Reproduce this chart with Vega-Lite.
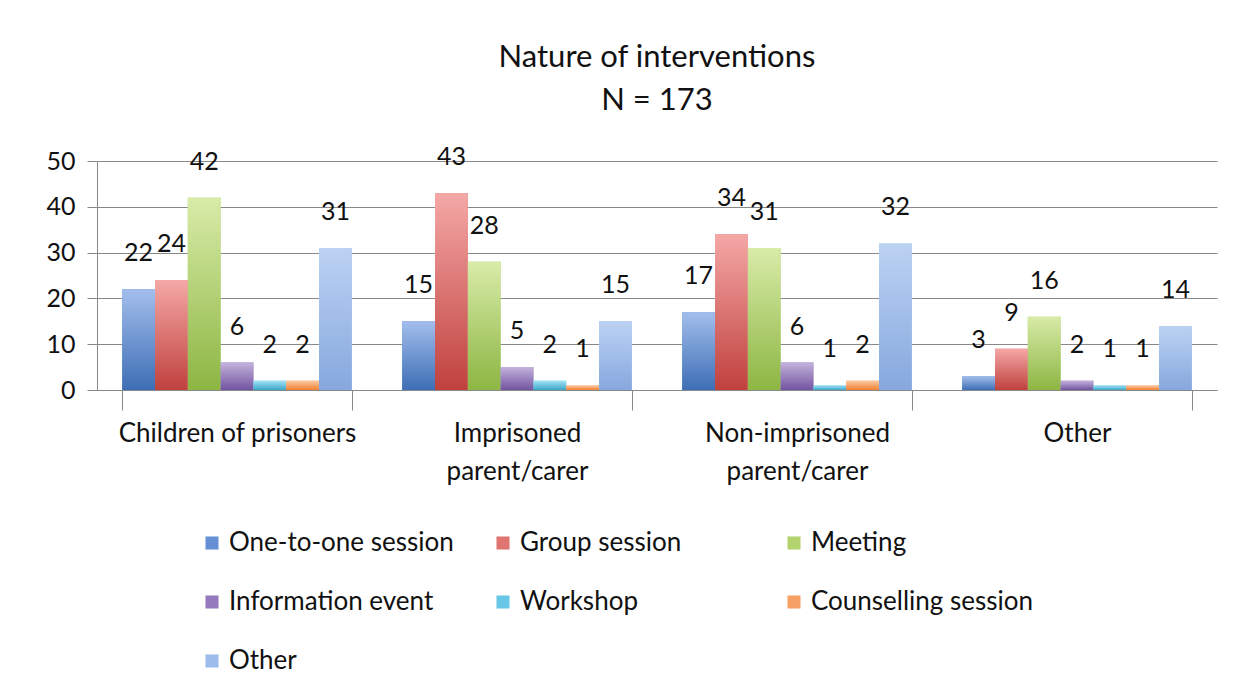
{
  "$schema": "https://vega.github.io/schema/vega-lite/v6.json",
  "width": 1120,
  "height": 229,
  "padding": {"left": 45, "top": 42, "right": 20, "bottom": 5},
  "background": "white",
  "title": {
    "text": ["Nature of interventions", "N = 173"],
    "fontSize": 31,
    "font": "Lato",
    "fontWeight": "normal",
    "color": "#111111",
    "lineHeight": 43,
    "offset": 28,
    "anchor": "middle",
    "frame": "group"
  },
  "data": {
    "values": [
      {"group": "Children of prisoners", "type": "One-to-one session", "value": 22},
      {"group": "Children of prisoners", "type": "Group session", "value": 24},
      {"group": "Children of prisoners", "type": "Meeting", "value": 42},
      {"group": "Children of prisoners", "type": "Information event", "value": 6},
      {"group": "Children of prisoners", "type": "Workshop", "value": 2},
      {"group": "Children of prisoners", "type": "Counselling session", "value": 2},
      {"group": "Children of prisoners", "type": "Other", "value": 31},
      {"group": "Imprisoned parent/carer", "type": "One-to-one session", "value": 15},
      {"group": "Imprisoned parent/carer", "type": "Group session", "value": 43},
      {"group": "Imprisoned parent/carer", "type": "Meeting", "value": 28},
      {"group": "Imprisoned parent/carer", "type": "Information event", "value": 5},
      {"group": "Imprisoned parent/carer", "type": "Workshop", "value": 2},
      {"group": "Imprisoned parent/carer", "type": "Counselling session", "value": 1},
      {"group": "Imprisoned parent/carer", "type": "Other", "value": 15},
      {"group": "Non-imprisoned parent/carer", "type": "One-to-one session", "value": 17},
      {"group": "Non-imprisoned parent/carer", "type": "Group session", "value": 34},
      {"group": "Non-imprisoned parent/carer", "type": "Meeting", "value": 31},
      {"group": "Non-imprisoned parent/carer", "type": "Information event", "value": 6},
      {"group": "Non-imprisoned parent/carer", "type": "Workshop", "value": 1},
      {"group": "Non-imprisoned parent/carer", "type": "Counselling session", "value": 2},
      {"group": "Non-imprisoned parent/carer", "type": "Other", "value": 32},
      {"group": "Other", "type": "One-to-one session", "value": 3},
      {"group": "Other", "type": "Group session", "value": 9},
      {"group": "Other", "type": "Meeting", "value": 16},
      {"group": "Other", "type": "Information event", "value": 2},
      {"group": "Other", "type": "Workshop", "value": 1},
      {"group": "Other", "type": "Counselling session", "value": 1},
      {"group": "Other", "type": "Other", "value": 14}
    ]
  },
  "encoding": {
    "x": {
      "field": "group",
      "type": "nominal",
      "sort": null,
      "title": null,
      "scale": {"paddingInner": 0.18, "paddingOuter": 0.09},
      "axis": {
        "labelAngle": 0,
        "labelFont": "Lato",
        "labelFontSize": 26,
        "labelColor": "#111111",
        "labelPadding": 10,
        "labelLimit": 400,
        "labelLineHeight": 38,
        "labelExpr": "datum.label == 'Imprisoned parent/carer' ? ['Imprisoned', 'parent/carer'] : datum.label == 'Non-imprisoned parent/carer' ? ['Non-imprisoned', 'parent/carer'] : datum.label",
        "tickBand": "extent",
        "tickSize": 20,
        "tickColor": "#888888",
        "domainColor": "#888888",
        "grid": false
      }
    },
    "xOffset": {
      "field": "type",
      "type": "nominal",
      "sort": null,
      "scale": {"domain": ["One-to-one session", "Group session", "Meeting", "Information event", "Workshop", "Counselling session", "Other"]}
    },
    "y": {
      "field": "value",
      "type": "quantitative",
      "title": null,
      "scale": {"domain": [0, 50]},
      "axis": {
        "values": [0, 10, 20, 30, 40, 50],
        "labelFont": "Lato",
        "labelFontSize": 25,
        "labelColor": "#111111",
        "labelPadding": 12,
        "tickSize": 10,
        "tickColor": "#888888",
        "domainColor": "#888888",
        "gridColor": "#888888",
        "gridWidth": 1
      }
    }
  },
  "layer": [
    {
      "mark": {"type": "bar", "width": {"band": 1}},
      "encoding": {
        "color": {
          "field": "type",
          "type": "nominal",
          "sort": null,
          "title": null,
          "scale": {
            "domain": ["One-to-one session", "Group session", "Meeting", "Information event", "Workshop", "Counselling session", "Other"],
            "range": ["#6690D4", "#E07470", "#B2D36E", "#957BBD", "#68C6E6", "#F6A066", "#9DBCEC"]
          },
          "legend": {
            "orient": "none",
            "legendX": 102,
            "legendY": 369,
            "direction": "horizontal",
            "columns": 3,
            "gridAlign": "all",
            "symbolType": "square",
            "symbolSize": 170,
            "symbolStrokeWidth": 0,
            "labelFont": "Lato",
            "labelFontSize": 26,
            "labelColor": "#111111",
            "labelLimit": 400,
            "columnPadding": 36,
            "rowPadding": 33
          }
        }
      }
    },
    {
      "transform": [{"filter": "datum.type == 'One-to-one session'"}],
      "mark": {"type": "bar", "width": {"band": 1}, "color": {"gradient": "linear", "x1": 0, "y1": 0, "x2": 0, "y2": 1, "stops": [{"offset": 0, "color": "#A3BEEC"}, {"offset": 1, "color": "#3D6EB5"}]}}
    },
    {
      "transform": [{"filter": "datum.type == 'Group session'"}],
      "mark": {"type": "bar", "width": {"band": 1}, "color": {"gradient": "linear", "x1": 0, "y1": 0, "x2": 0, "y2": 1, "stops": [{"offset": 0, "color": "#F4A8A6"}, {"offset": 1, "color": "#C0413E"}]}}
    },
    {
      "transform": [{"filter": "datum.type == 'Meeting'"}],
      "mark": {"type": "bar", "width": {"band": 1}, "color": {"gradient": "linear", "x1": 0, "y1": 0, "x2": 0, "y2": 1, "stops": [{"offset": 0, "color": "#D8EBA8"}, {"offset": 1, "color": "#8DB643"}]}}
    },
    {
      "transform": [{"filter": "datum.type == 'Information event'"}],
      "mark": {"type": "bar", "width": {"band": 1}, "color": {"gradient": "linear", "x1": 0, "y1": 0, "x2": 0, "y2": 1, "stops": [{"offset": 0, "color": "#C3B2DC"}, {"offset": 1, "color": "#7254A0"}]}}
    },
    {
      "transform": [{"filter": "datum.type == 'Workshop'"}],
      "mark": {"type": "bar", "width": {"band": 1}, "color": {"gradient": "linear", "x1": 0, "y1": 0, "x2": 0, "y2": 1, "stops": [{"offset": 0, "color": "#A2E2F5"}, {"offset": 1, "color": "#3AA6C8"}]}}
    },
    {
      "transform": [{"filter": "datum.type == 'Counselling session'"}],
      "mark": {"type": "bar", "width": {"band": 1}, "color": {"gradient": "linear", "x1": 0, "y1": 0, "x2": 0, "y2": 1, "stops": [{"offset": 0, "color": "#FBC9A2"}, {"offset": 1, "color": "#F08030"}]}}
    },
    {
      "transform": [{"filter": "datum.type == 'Other'"}],
      "mark": {"type": "bar", "width": {"band": 1}, "color": {"gradient": "linear", "x1": 0, "y1": 0, "x2": 0, "y2": 1, "stops": [{"offset": 0, "color": "#BCD2F3"}, {"offset": 1, "color": "#86A8DE"}]}}
    },
    {
      "mark": {"type": "text", "baseline": "bottom", "dy": -23, "font": "Lato", "fontSize": 25, "color": "#111111"},
      "encoding": {"text": {"field": "value", "type": "quantitative"}}
    }
  ],
  "config": {
    "view": {"stroke": null}
  }
}
